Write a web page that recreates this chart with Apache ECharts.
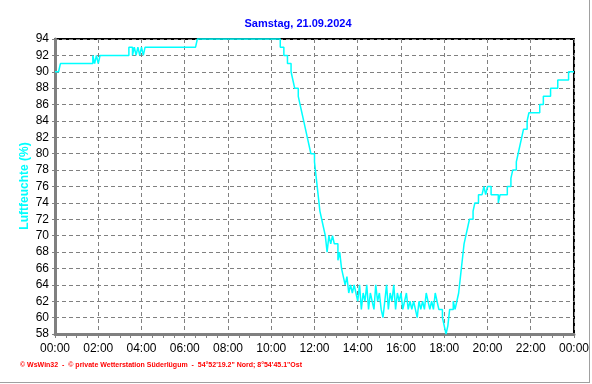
<!DOCTYPE html>
<html>
<head>
<meta charset="utf-8">
<script src="https://cdn.jsdelivr.net/npm/echarts@6/dist/echarts.min.js"></script>
<style>
html,body{margin:0;padding:0;background:#fff;}
#c{width:592px;height:384px;}
</style>
</head>
<body>
<div id="c"></div>
<script>
// Humidity (%) in 5-minute steps, one array per hour (:00 ... :55)
const h00 = [90,90,90,91,91,91,91,91,91,91,91,91];
const h01 = [91,91,91,91,91,91,91,91,91,92,91,92];
const h02 = [91,92,92,92,92,92,92,92,92,92,92,92];
const h03 = [92,92,92,92,92,93,93,92,93,92,93,92];
const h04 = [93,92,93,93,93,93,93,93,93,93,93,93];
const h05 = [93,93,93,93,93,93,93,93,93,93,93,93];
const h06 = [93,93,93,93,93,93,93,94,94,94,94,94];
const h07 = [94,94,94,94,94,94,94,94,94,94,94,94];
const h08 = [94,94,94,94,94,94,94,94,94,94,94,94];
const h09 = [94,94,94,94,94,94,94,94,94,94,94,94];
const h10 = [94,94,94,94,94,93,93,92,92,91,91,90];
const h11 = [89,88,88,87,86,85,84,83,82,81,80,80];
const h12 = [79,77,75,73,72,71,70,68,70,69,70,69];
const h13 = [69,67,68,66,65,64,65,63,64,63,64,63];
const h14 = [62,64,61,63,62,64,61,63,62,61,64,62];
const h15 = [63,61,60,62,64,61,63,62,64,61,63,62];
const h16 = [63,61,62,63,61,62,61,62,61,60,62,61];
const h17 = [62,61,63,62,61,62,61,63,62,61,61,60];
const h18 = [59,58,59,61,61,62,61,62,63,65,67,69];
const h19 = [70,71,72,72,73,74,74,75,75,75,76,75];
const h20 = [76,76,75,75,75,75,74,75,75,75,75,76];
const h21 = [76,77,78,78,79,80,81,82,83,83,84,85];
const h22 = [85,85,85,85,85,86,86,87,87,87,87,88];
const h23 = [88,88,88,89,89,89,89,89,89,90,90,90];
const endValue = 90; // 24:00

const hours = [h00,h01,h02,h03,h04,h05,h06,h07,h08,h09,h10,h11,h12,h13,h14,h15,h16,h17,h18,h19,h20,h21,h22,h23];
const stepMinutes = 5;

const titleText = 'Samstag, 21.09.2024';
const yName = 'Luftfeuchte (%)';
const footerText = '\u00A9 WsWin32  -  \u00A9 private Wetterstation S\u00FCderl\u00FCgum  -  54\u00B052\'19.2" Nord; 8\u00B054\'45.1"Ost';

const yMin = 58, yMax = 94, yStep = 2;
const xMin = 0, xMax = 1440, xStep = 120;

const data = [];
hours.forEach((arr, h) => arr.forEach((v, i) => data.push([h * 60 + i * stepMinutes, v])));
data.push([1440, endValue]);

const chart = echarts.init(document.getElementById('c'), null, {renderer: 'canvas'});
const pad = n => (n < 10 ? '0' : '') + n;

chart.setOption({
  animation: false,
  backgroundColor: '#fff',
  grid: {left: 55, right: 18, top: 39, bottom: 50, show: true, borderColor: '#000', borderWidth: 2, backgroundColor: 'transparent'},
  xAxis: {
    type: 'value', min: xMin, max: xMax, interval: xStep,
    axisLine: {show: true, onZero: false, lineStyle: {color: '#808080', width: 3}},
    axisTick: {show: true, length: 4, lineStyle: {color: '#808080'}},
    minorTick: {show: true, splitNumber: 4, length: 4, lineStyle: {color: '#808080'}},
    axisLabel: {color: '#000', fontFamily: 'Liberation Sans, Arial', fontSize: 12, margin: 9,
      formatter: v => pad(Math.round(v / 60) % 24) + ':00'},
    splitLine: {show: true, lineStyle: {color: '#808080', type: [4, 3], width: 1}}
  },
  yAxis: {
    type: 'value', min: yMin, max: yMax, interval: yStep,
    axisLine: {show: true, onZero: false, lineStyle: {color: '#808080', width: 3}},
    axisTick: {show: true, length: 3, lineStyle: {color: '#808080'}},
    axisLabel: {color: '#000', fontFamily: 'Liberation Sans, Arial', fontSize: 12, margin: 6},
    splitLine: {show: true, lineStyle: {color: '#808080', type: [4, 3], width: 1}}
  },
  graphic: [
    {type: 'text', x: 298, y: 24, style: {text: titleText, fill: '#0000FF', font: 'bold 11px "Liberation Sans", Arial', textAlign: 'center', textVerticalAlign: 'middle'}},
    {type: 'text', x: 25, y: 186, rotation: Math.PI / 2,
      style: {text: yName, fill: '#00FFFF', font: 'bold 12px "Liberation Sans", Arial', textAlign: 'center', textVerticalAlign: 'middle'}},
    {type: 'text', x: 20, y: 365, style: {text: footerText, fill: '#FF0000', font: 'bold 7px "Liberation Sans", Arial', textVerticalAlign: 'middle'}},
    {type: 'line', shape: {x1: 589.5, y1: 0, x2: 589.5, y2: 383}, style: {stroke: '#A0A0A0', lineWidth: 1}},
    {type: 'line', shape: {x1: 0, y1: 382.5, x2: 590, y2: 382.5}, style: {stroke: '#A0A0A0', lineWidth: 1}}
  ],
  series: [{
    type: 'line', data: data, step: 'end', showSymbol: false, clip: false,
    lineStyle: {color: '#00FFFF', width: 1.5}
  }]
});
</script>
</body>
</html>
